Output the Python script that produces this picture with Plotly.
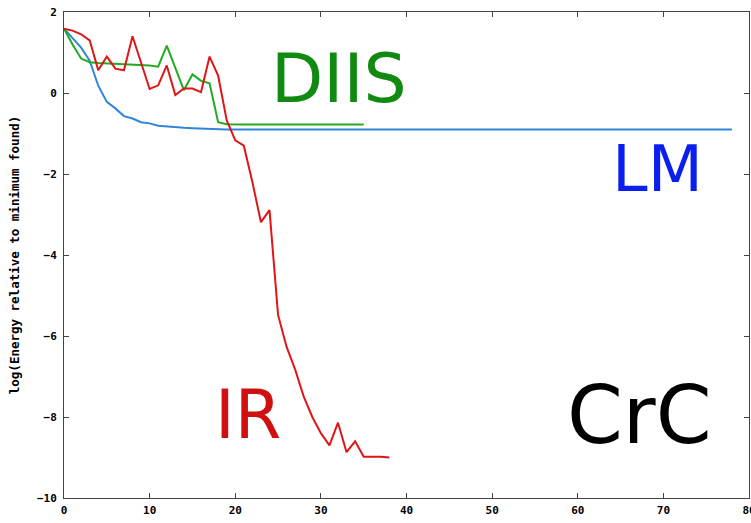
import plotly.graph_objects as go

# IR (red)
ir_x = list(range(0, 39))
ir_y = [1.59, 1.54, 1.45, 1.30, 0.56, 0.90, 0.60, 0.56, 1.40, 0.73,
        0.10, 0.19, 0.68, -0.05, 0.11, 0.11, 0.02, 0.90, 0.43, -0.67,
        -1.17, -1.30, -2.20, -3.19, -2.89, -5.48, -6.27, -6.83, -7.50, -8.00,
        -8.40, -8.70, -8.14, -8.87, -8.60, -8.98, -8.98, -8.98, -9.00]

# DIIS (green)
diis_x = list(range(0, 36))
diis_y = [1.59, 1.20, 0.85, 0.76, 0.74, 0.73, 0.72, 0.70, 0.70, 0.68,
          0.68, 0.65, 1.17, 0.62, 0.07, 0.46, 0.30, 0.24, -0.72, -0.77] + [-0.78] * 16

# LM (blue)
lm_x = list(range(0, 79))
lm_y = [1.59, 1.35, 1.12, 0.80, 0.18, -0.22, -0.38, -0.57, -0.63, -0.72,
        -0.75, -0.81, -0.83, -0.85, -0.86, -0.87, -0.88, -0.89] + [-0.90] * 61

x_ticks = [0, 10, 20, 30, 40, 50, 60, 70, 80]
y_ticks = [2, 0, -2, -4, -6, -8, -10]

fig = go.Figure()
fig.add_trace(go.Scatter(x=lm_x, y=lm_y, mode="lines",
                         line=dict(color="#2f86d8", width=2), name="LM"))
fig.add_trace(go.Scatter(x=diis_x, y=diis_y, mode="lines",
                         line=dict(color="#22aa22", width=2), name="DIIS"))
fig.add_trace(go.Scatter(x=ir_x, y=ir_y, mode="lines",
                         line=dict(color="#e01515", width=2), name="IR"))

tickfont = dict(family="DejaVu Sans Mono", size=11, color="#000000", weight="bold")

fig.update_layout(
    width=751, height=523,
    margin=dict(l=64, r=2, t=12, b=25, pad=0),
    paper_bgcolor="white", plot_bgcolor="white",
    showlegend=False,
    xaxis=dict(range=[0, 80], tickvals=x_ticks, ticks="inside", ticklen=5,
               tickcolor="#444", showline=True, linecolor="#444", linewidth=1,
               mirror="ticks", showgrid=False, zeroline=False,
               tickfont=tickfont, ticklabelstandoff=2,
               ticklabeloverflow="allow", automargin=False),
    yaxis=dict(range=[-10, 2], tickvals=y_ticks, ticks="inside", ticklen=5,
               tickcolor="#444", showline=True, linecolor="#444", linewidth=1,
               mirror="ticks", showgrid=False, zeroline=False,
               tickfont=tickfont, ticklabelstandoff=4, automargin=False,
               title=dict(text="log(Energy relative to minimum found)",
                          font=dict(family="DejaVu Sans Mono", size=12.5,
                                    color="#000000", weight="bold"),
                          standoff=14)),
)

labels = [
    ("DIIS", 0.401, 0.864, "#118a11", 68),
    ("LM", 0.866, 0.676, "#0a1ef0", 64),
    ("IR", 0.268, 0.171, "#d01010", 67),
    ("CrC", 0.840, 0.170, "#000000", 80),
]
for txt, xx, yy, col, sz in labels:
    fig.add_annotation(text=txt, x=xx, y=yy, xref="paper", yref="paper",
                       showarrow=False, xanchor="center", yanchor="middle",
                       font=dict(family="DejaVu Sans", size=sz, color=col))

fig.write_html("out.html")
